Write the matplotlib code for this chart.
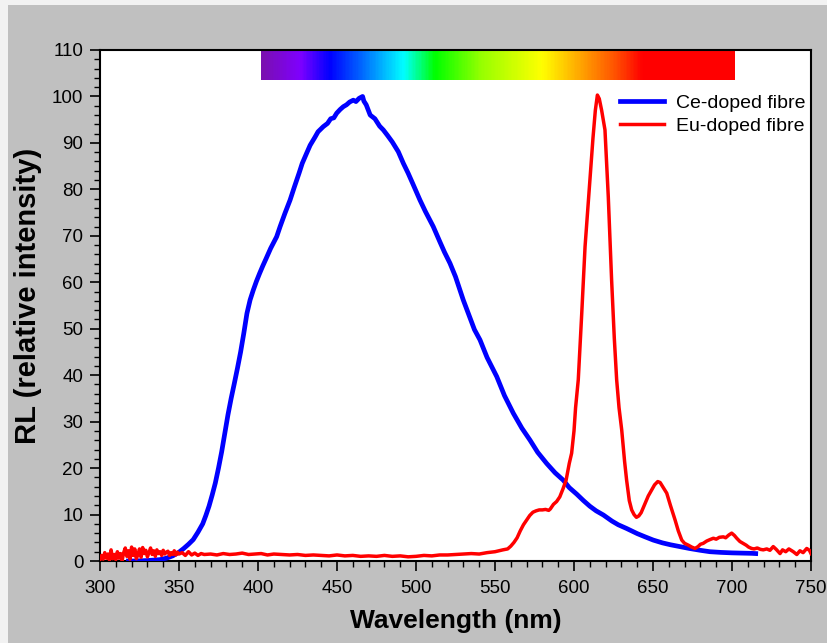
import numpy as np
import matplotlib
matplotlib.use("Agg")
import matplotlib.pyplot as plt
from matplotlib.colors import LinearSegmentedColormap
from matplotlib.patches import Rectangle

plt.rcParams['font.family'] = ['Liberation Sans', 'DejaVu Sans']

# Ce-doped fibre RL spectrum
ce_nm = [318, 322, 326, 330, 334, 338, 342, 346, 350, 353, 356, 359, 362, 365, 367, 369,
         371, 373, 375, 377, 379, 381, 383, 385, 387, 389, 391, 393, 395, 397, 399, 401,
         403, 405, 408, 411.8, 414, 417, 420.3, 423, 426, 428, 430.8, 433, 436, 438, 441.3,
         444, 446, 448, 449.8, 452, 454, 456, 458, 460.3, 462, 464, 466.2, 467, 468.5, 471,
         474, 477, 479.3, 482, 485, 488.8, 492, 495, 498, 502.5, 506, 510.9, 515, 518,
         521.5, 525, 529.9, 534, 537, 540.5, 545, 551.1, 556, 561.6, 567, 572.2, 577,
         582.7, 588, 593.2, 597, 601.7, 606, 610, 614, 618.6, 624, 628, 633.3, 640, 645,
         650.2, 656, 661, 667, 673, 680, 686, 693, 700, 706, 712.4, 715]
ce_rl = [0.0, 0.0, 0.05, 0.1, 0.2, 0.3, 0.6, 1.1, 1.9, 2.7, 3.6, 4.6, 6.2, 8.0, 9.8, 11.8,
         14.2, 16.8, 20.0, 23.5, 27.5, 31.5, 35.0, 38.2, 41.5, 45.0, 49.0, 53.3, 56.2, 58.3,
         60.2, 61.9, 63.5, 65.0, 67.3, 69.8, 72.0, 74.8, 77.7, 80.5, 83.5, 85.6, 87.8, 89.5,
         91.2, 92.4, 93.5, 94.2, 95.2, 95.4, 96.4, 97.2, 97.8, 98.2, 98.8, 99.2, 98.9, 99.6,
         100.0, 99.0, 98.2, 96.0, 95.2, 93.6, 92.8, 91.6, 90.2, 88.1, 85.6, 83.5, 81.2, 77.7,
         75.2, 72.0, 68.8, 66.5, 64.1, 61.2, 56.2, 52.5, 49.8, 47.6, 43.8, 39.7, 35.6, 31.8,
         28.6, 26.0, 23.4, 21.0, 19.0, 17.4, 15.8, 14.4, 13.0, 11.8, 10.8, 9.9, 8.6, 7.8,
         7.0, 5.9, 5.2, 4.5, 3.9, 3.5, 3.1, 2.7, 2.3, 2.0, 1.85, 1.75, 1.7, 1.65, 1.6]

# Eu-doped fibre RL spectrum
eu_nm = [300, 301, 302, 303, 304, 305, 306, 307, 308, 309, 310, 311, 312, 313, 314, 315,
         316, 317, 318, 319, 320, 321, 322, 323, 324, 325, 326, 327, 328, 329, 330, 331,
         332, 333, 334, 335, 336, 337, 338, 339, 340, 341, 342, 343, 344, 345, 346, 347,
         348, 349, 350, 352, 354, 356, 358, 360, 362, 364, 366, 370, 374, 378, 382, 386,
         390, 394, 398, 402, 406, 410, 415, 420, 425, 430, 435, 440, 445, 450, 455, 460,
         465, 470, 475, 480, 485, 490, 495, 500, 505, 510, 515, 520, 525, 530, 535, 540,
         545, 550, 555, 558, 560, 562, 564, 566, 568, 570, 572, 574, 576, 578, 580, 582,
         584, 585, 587, 589, 591, 593, 595, 597, 598.5, 600, 601, 602.7, 604.9, 607, 610.1,
         612, 613.5, 614.8, 616, 617.5, 619.6, 621.7, 623.8, 625.5, 627, 628.5, 630.2, 632,
         633.3, 635, 636.5, 638, 639.5, 641, 642.5, 645, 647, 649.2, 651, 653, 654.5,
         656.5, 658.7, 661, 664, 666, 668.2, 670, 672.4, 674.5, 676.6, 678.5, 680, 681.8,
         684, 686, 688.2, 690, 692, 694.5, 696, 698, 699.8, 701.5, 703, 705, 707, 709,
         710.5, 712.4, 714, 716, 718, 719.8, 722, 724, 726.1, 728, 730.4, 732, 734, 736,
         738.8, 741, 743, 745, 747.3, 749, 750]
eu_rl = [0.3, 1.2, 0.4, 1.8, 0.6, 1.5, 0.2, 2.4, 0.5, 1.4, 0.3, 2.0, 0.6, 1.6, 0.1, 1.8,
         2.8, 1.0, 2.2, 0.4, 3.0, 1.2, 2.6, 0.5, 1.4, 2.6, 0.8, 2.9, 1.6, 2.3, 0.9, 1.8,
         2.8, 1.4, 2.2, 1.0, 2.4, 1.6, 2.0, 1.2, 2.3, 1.5, 1.9, 2.1, 1.2, 1.8, 1.4, 2.2,
         1.3, 1.9, 1.5, 1.8, 1.2, 2.0, 1.3, 1.7, 1.2, 1.6, 1.4, 1.5, 1.3, 1.6, 1.4, 1.5,
         1.7, 1.4, 1.5, 1.6, 1.3, 1.5, 1.4, 1.3, 1.4, 1.2, 1.3, 1.2, 1.1, 1.3, 1.1, 1.2,
         1.0, 1.1, 1.0, 1.2, 1.0, 1.1, 0.9, 1.0, 1.2, 1.1, 1.3, 1.3, 1.4, 1.5, 1.6, 1.5,
         1.8, 2.0, 2.4, 2.6, 3.2, 4.0, 5.0, 6.5, 7.8, 8.8, 9.8, 10.5, 10.8, 11.0, 11.0, 11.1,
         10.9, 11.2, 12.2, 12.8, 13.8, 15.5, 17.4, 21.0, 23.2, 28.0, 33.0, 39.0, 53.3, 67.7,
         82.0, 91.0, 97.0, 100.3, 99.5, 97.0, 92.8, 78.4, 60.5, 48.0, 39.0, 33.0, 28.2, 21.5,
         17.4, 13.0, 11.0, 10.0, 9.4, 9.7, 10.4, 12.4, 14.0, 15.3, 16.4, 17.1, 16.9,
         15.8, 14.6, 12.0, 8.8, 6.5, 4.5, 3.8, 3.4, 3.0, 2.7, 3.1, 3.6, 3.8,
         4.3, 4.6, 4.9, 4.7, 5.1, 5.2, 5.0, 5.6, 6.0, 5.5, 4.9, 4.2, 3.8, 3.4,
         3.0, 2.7, 2.6, 2.8, 2.5, 2.4, 2.6, 2.3, 3.1, 2.5, 1.6, 2.4, 2.0, 2.6,
         2.0, 1.4, 2.2, 1.8, 2.7, 2.3, 1.6]

# visible spectrum strip colours
strip_nm = [402, 426, 445, 465, 492, 512, 542, 580, 606, 627, 644, 702]
strip_col = ['#7a10b0', '#7f00ff', '#0000ff', '#0066ff', '#00ffff', '#00ff00',
             '#99ff00', '#ffff00', '#ffa000', '#ff5000', '#ff0000', '#ff0000']

fig = plt.figure(figsize=(8.27, 6.43), dpi=100, facecolor='#f2f2f2')
fig.patches.append(Rectangle((8/827, 0), 1, 1 - 5/643, transform=fig.transFigure,
                             facecolor='#c0c0c0', edgecolor='none', zorder=-10))
ax = fig.add_axes([100/827, 82/643, 711/827, 511/643])
ax.set_facecolor('white')

# spectrum bar along the top
pos = [(n - strip_nm[0]) / (strip_nm[-1] - strip_nm[0]) for n in strip_nm]
cmap = LinearSegmentedColormap.from_list('vis', list(zip(pos, strip_col)))
ax.imshow(np.linspace(0, 1, 400)[None, :], cmap=cmap, aspect='auto',
          extent=[strip_nm[0], strip_nm[-1], 103.5, 110], zorder=1)

ax.plot(ce_nm, ce_rl, color='#0000ff', lw=3.4, label='Ce-doped fibre', zorder=3)
ax.plot(eu_nm, eu_rl, color='#ff0000', lw=2.5, label='Eu-doped fibre', zorder=4)

ax.set_xlim(300, 750)
ax.set_ylim(0, 110)
ax.set_xticks(np.arange(300, 751, 50))
ax.set_xticks(np.arange(300, 751, 10), minor=True)
ax.set_yticks(np.arange(0, 111, 10))
ax.set_yticks(np.arange(0, 111, 2), minor=True)
ax.tick_params(which='major', length=7, width=1.2, labelsize=13.5, direction='out')
ax.tick_params(which='minor', length=4, width=1.0, direction='out')
ax.tick_params(axis='x', pad=7)
ax.tick_params(axis='y', pad=5)
for s in ax.spines.values():
    s.set_linewidth(1.5)
    s.set_color('black')

ax.set_xlabel('Wavelength (nm)', fontsize=19, fontweight='bold', labelpad=8)
ax.set_ylabel('RL (relative intensity)', fontsize=21, fontweight='bold')
ax.yaxis.set_label_coords(-0.082, 0.518)

ax.legend(loc='upper left', bbox_to_anchor=(0.731, 0.914), frameon=False, fontsize=14,
          handlelength=2.3, handletextpad=0.6, labelspacing=0.3, borderpad=0,
          borderaxespad=0)

fig.savefig('out.png', dpi=100, facecolor=fig.get_facecolor())
